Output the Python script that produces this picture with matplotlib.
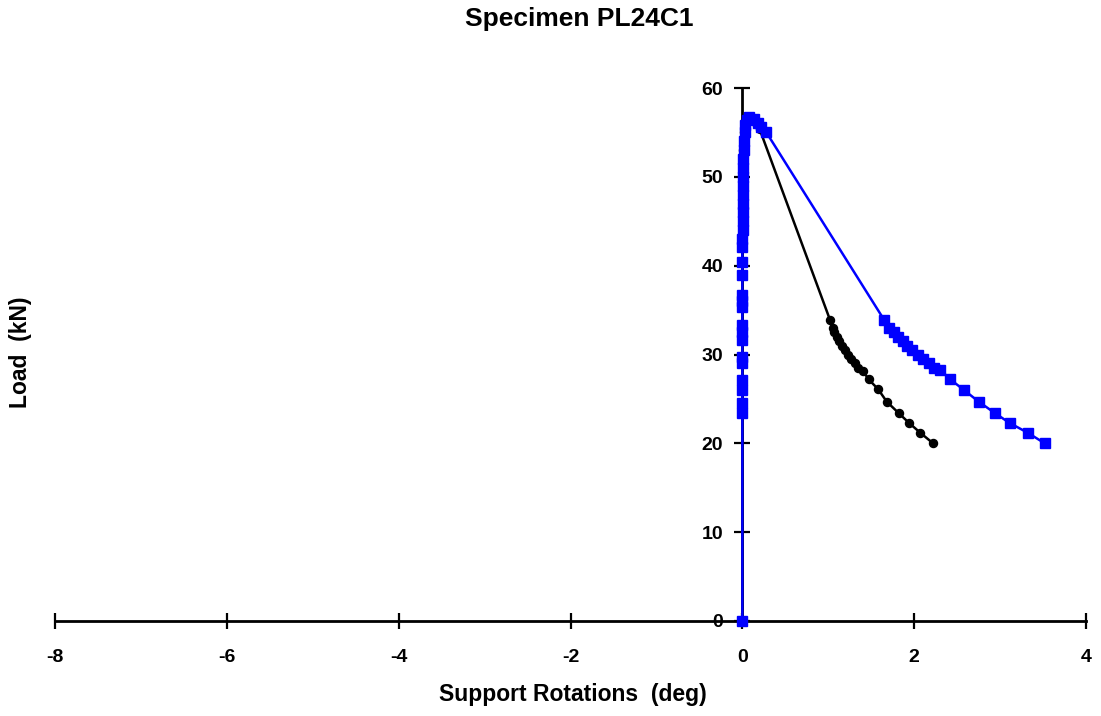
import matplotlib
matplotlib.use("Agg")
import matplotlib.pyplot as plt

plt.rcParams['font.family'] = ['Liberation Sans', 'DejaVu Sans']
plt.rcParams['font.weight'] = 'bold'
plt.rcParams['axes.unicode_minus'] = False

# Support rotation (deg) vs load (kN), two supports
black_rot = [0.0, 0.0, 0.0, 0.0, 0.0, 0.0, 0.0, 0.001, 0.002, 0.003, 0.004, 0.005, 0.007,
             0.009, 0.012, 0.016, 0.021, 0.03, 0.045, 0.07, 0.12, 0.2,
             1.02, 1.05, 1.07, 1.10, 1.13, 1.16, 1.19, 1.23, 1.27, 1.31, 1.35, 1.40,
             1.47, 1.58, 1.68, 1.82, 1.94, 2.07, 2.22]
black_load = [0.0, 23.4, 26.0, 29.0, 32.5, 36.0, 40.4, 43.0, 45.0, 47.0, 49.0, 50.0, 51.0,
              52.0, 53.0, 54.0, 55.0, 55.8, 56.4, 56.7, 56.3, 55.4,
              33.9, 33.0, 32.5, 32.0, 31.5, 31.0, 30.5, 30.0, 29.5, 29.0, 28.5, 28.2,
              27.2, 26.1, 24.7, 23.4, 22.3, 21.2, 20.0]

blue_rot = [0.0, 0.0, 0.0, 0.0, 0.0, 0.0, 0.0, 0.0, 0.0, 0.0, 0.0, 0.0, 0.0, 0.0, 0.0, 0.0,
            0.0, 0.002, 0.003, 0.004, 0.005, 0.006, 0.007, 0.009, 0.011, 0.013, 0.016, 0.02,
            0.026, 0.035, 0.05, 0.08, 0.13, 0.18, 0.22, 0.28,
            1.65, 1.71, 1.76, 1.81, 1.87, 1.92, 1.98, 2.04, 2.10, 2.17, 2.23, 2.30,
            2.42, 2.58, 2.75, 2.94, 3.11, 3.32, 3.52]
blue_load = [0.0, 23.4, 24.5, 26.0, 27.1, 29.0, 29.7, 31.6, 32.5, 33.3, 35.3, 36.0, 36.7,
             38.9, 40.4, 42.1, 43.0, 44.0, 45.0, 46.0, 47.0, 48.0, 49.0, 50.0, 51.0, 52.0,
             53.0, 54.0, 55.0, 55.8, 56.4, 56.7, 56.5, 56.1, 55.6, 55.0,
             33.9, 33.0, 32.5, 32.0, 31.5, 31.0, 30.5, 30.0, 29.5, 29.0, 28.5, 28.3,
             27.2, 26.0, 24.7, 23.4, 22.3, 21.2, 20.0]

x_ticks = [-8, -6, -4, -2, 0, 2, 4]
y_ticks = [0, 10, 20, 30, 40, 50, 60]

fig = plt.figure(figsize=(11.01, 7.16), dpi=100)
ax = fig.add_axes([0.05, 0.1327, 0.9364, 0.7443])

ax.plot(black_rot, black_load, color='black', lw=1.8, marker='o', ms=5.8,
        clip_on=False, zorder=3)
ax.plot(blue_rot, blue_load, color='#0000ff', lw=1.8, marker='s', ms=6.5,
        clip_on=False, zorder=4)

ax.set_xlim(-8, 4)
ax.set_ylim(0, 60)
ax.set_xticks(x_ticks)
ax.set_yticks(y_ticks)

for side in ('top', 'right'):
    ax.spines[side].set_visible(False)
ax.spines['left'].set_position(('data', 0))
ax.spines['bottom'].set_position(('data', 0))
for side in ('left', 'bottom'):
    ax.spines[side].set_linewidth(2)
    ax.spines[side].set_zorder(2)

ax.tick_params(axis='both', direction='inout', length=12, width=1.6,
               labelsize=14)
ax.tick_params(axis='x', pad=14)
ax.tick_params(axis='y', pad=8)
for lbl in ax.get_xticklabels() + ax.get_yticklabels():
    lbl.set_fontweight('bold')

fig.text(0.526, 0.973, 'Specimen PL24C1', ha='center', va='center',
         fontsize=19, fontweight='bold')
fig.text(0.520, 0.030, 'Support Rotations  (deg)', ha='center', va='center',
         fontsize=16.5, fontweight='bold')
fig.text(0.019, 0.508, 'Load  (kN)', ha='center', va='center', rotation=90,
         fontsize=16.5, fontweight='bold')

fig.savefig('out.png', dpi=100)
